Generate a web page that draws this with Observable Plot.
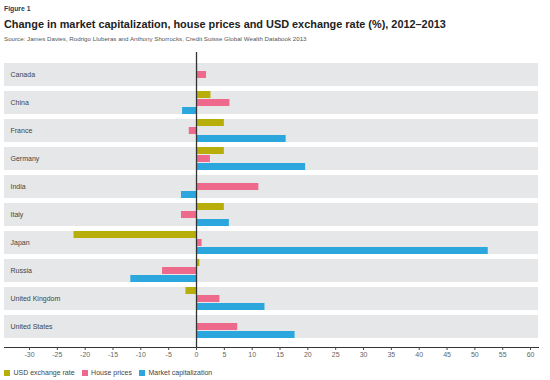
<!DOCTYPE html>
<html>
<head>
<meta charset="utf-8">
<script src="https://cdn.jsdelivr.net/npm/d3@7"></script>
<script src="https://cdn.jsdelivr.net/npm/@observablehq/plot@0.6"></script>
<style>
  body { margin: 0; background: #fff; font-family: "Liberation Sans", Arial, sans-serif; width: 550px; height: 380px; position: relative; overflow: hidden; }
  .hdr { position: absolute; left: 4px; line-height: 1; white-space: nowrap; }
  #fig { top: 6.4px; font-size: 6.8px; font-weight: bold; color: #1f3a5f; }
  #title { top: 19.1px; font-size: 10.9px; font-weight: bold; color: #222; }
  #source { top: 35.7px; font-size: 6.2px; color: #555; }
  #chart { position: absolute; left: 0; top: 45px; }
  #legend { position: absolute; left: 4px; top: 369px; }
  #legend > div { min-height: 0 !important; margin: 0 !important; }
</style>
</head>
<body>
<div class="hdr" id="fig">Figure 1</div>
<div class="hdr" id="title">Change in market capitalization, house prices and USD exchange rate (%), 2012–2013</div>
<div class="hdr" id="source">Source: James Davies, Rodrigo Lluberas and Anthony Shorrocks, Credit Suisse Global Wealth Databook 2013</div>
<div id="chart"></div>
<div id="legend"></div>
<script>
const countries = ["Canada", "China", "France", "Germany", "India", "Italy", "Japan", "Russia", "United Kingdom", "United States"];
const series = ["USD exchange rate", "House prices", "Market capitalization"];
const usdRate = [0.2, 2.6, 5.0, 5.0, null, 5.0, -22.0, 0.6, -1.9, null];
const housePrices = [1.8, 6.0, -1.3, 2.5, 11.2, -2.7, 1.0, -6.1, 4.2, 7.4];
const marketCap = [null, -2.5, 16.1, 19.6, -2.7, 5.9, 52.4, -11.8, 12.3, 17.7];
const xTicks = [-30, -25, -20, -15, -10, -5, 0, 5, 10, 15, 20, 25, 30, 35, 40, 45, 50, 55, 60];
const xDomain = [-34.49, 61.43];
const colors = ["#b7ae0c", "#ee6a8c", "#2ba7de"];

const valueSets = [usdRate, housePrices, marketCap];
const rowsFor = (j) => countries
  .map((c, i) => ({country: c, series: series[j], value: valueSets[j][i]}))
  .filter(d => d.value != null);

// each band (24px) split into three sub-bars of 8px
const sub = 8;
const seriesBars = series.map((s, j) =>
  Plot.barX(rowsFor(j), {
    y: "country", x: "value", fill: colors[j],
    insetTop: j * sub, insetBottom: (2 - j) * sub
  })
);

const chart = Plot.plot({
  width: 550,
  height: 320,
  marginTop: 7,
  marginBottom: 18,
  marginLeft: 4,
  marginRight: 12,
  style: {fontFamily: "'Liberation Sans', Arial, sans-serif", background: "transparent"},
  x: {domain: xDomain},
  y: {domain: countries, paddingInner: 0.167, paddingOuter: 0, insetTop: 7, insetBottom: 5, axis: null},
  marks: [
    Plot.barX(countries, {y: d => d, x1: xDomain[0], x2: xDomain[1], fill: "#e6e7e8"}),
    Plot.text(countries, {y: d => d, text: d => d, frameAnchor: "left", textAnchor: "start", dx: 6, fontSize: 7, fill: "#444"}),
    ...seriesBars,
    Plot.ruleX([0], {stroke: "#333", strokeWidth: 1.3}),
    Plot.frame({anchor: "bottom", stroke: "#333", strokeWidth: 1}),
    Plot.axisX({ticks: xTicks, tickFormat: d => String(d), tickSize: 3, tickPadding: 2, fontSize: 7, stroke: "#444", fill: "#666", label: null})
  ]
});
document.getElementById("chart").appendChild(chart);

const legend = Plot.legend({
  legend: "swatches",
  color: {domain: series, range: colors},
  swatchSize: 6,
  style: {fontSize: "7px", fontFamily: "'Liberation Sans', Arial, sans-serif", color: "#444"}
});
document.getElementById("legend").appendChild(legend);
</script>
</body>
</html>
